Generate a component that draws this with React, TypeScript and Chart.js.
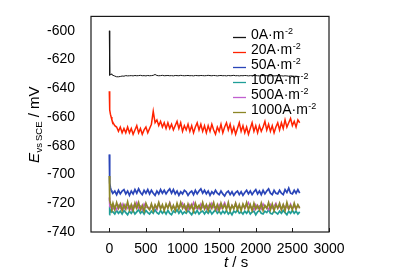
import { useEffect, useRef } from 'react';
import { Chart, registerables } from 'chart.js';

Chart.register(...registerables);

const FONT = '"Liberation Sans", Arial, Helvetica, sans-serif';

// Time axis (s)
const T = [
  0, 3, 8, 15, 25, 35,
  50, 75, 100, 125, 150, 175, 200, 225, 250, 275,
  300, 325, 350, 375, 400, 425, 450, 475, 500, 525,
  550, 575, 600, 625, 650, 675, 700, 725, 750, 775,
  800, 825, 850, 875, 900, 925, 950, 975, 1000, 1025,
  1050, 1075, 1100, 1125, 1150, 1175, 1200, 1225, 1250, 1275,
  1300, 1325, 1350, 1375, 1400, 1425, 1450, 1475, 1500, 1525,
  1550, 1575, 1600, 1625, 1650, 1675, 1700, 1725, 1750, 1775,
  1800, 1825, 1850, 1875, 1900, 1925, 1950, 1975, 2000, 2025,
  2050, 2075, 2100, 2125, 2150, 2175, 2200, 2225, 2250, 2275,
  2300, 2325, 2350, 2375, 2400, 2425, 2450, 2475, 2500, 2525,
  2550, 2575, 2600,
];

const E_0 = [
  -600, -629, -631, -630.5, -630, -630.5,
  -631, -631.5, -632, -632, -631.8, -631.5, -631.6, -631.2, -631.4, -631.3,
  -631.2, -631.4, -631.1, -631.3, -631.2, -631, -631.3, -631.2, -631.4, -631.1,
  -631.3, -631.2, -631, -630.4, -631.1, -631.3, -631.2, -631, -631.3, -631.2,
  -631.1, -631.3, -631.2, -631.4, -631.1, -631.2, -631.3, -631, -631.2, -631.3,
  -631.2, -631.1, -631.3, -631.2, -631.4, -631.1, -631.2, -631.3, -631.1, -631.2,
  -631.3, -631.2, -631, -631.2, -631.3, -631.1, -631.2, -631.4, -631.2, -631.1,
  -631.3, -631.2, -631.4, -631.1, -631.3, -631.2, -631, -631.3, -631.2, -631.4,
  -631.2, -631.3, -631.1, -631.2, -631.4, -631.2, -631.3, -631.1, -631.2, -631.3,
  -631.4, -631.2, -631.1, -631.3, -631.2, -631.4, -631.3, -631.2, -631.4, -631.3,
  -631.2, -631.4, -631.3, -631.5, -631.3, -631.4, -631.6, -631.4, -631.5, -631.7,
  -631.6, -631.8, -632,
];

const E_20 = [
  -642, -650, -655, -658, -660, -662,
  -664, -666, -667, -670, -667, -671, -668, -671, -667, -671,
  -668, -672, -669, -666, -671, -668, -672, -669, -667, -671,
  -668, -665, -656, -664, -662, -666, -663, -667, -664, -668,
  -664, -668, -665, -669, -666, -663, -668, -664, -670, -666,
  -669, -665, -670, -666, -671, -667, -664, -669, -665, -670,
  -666, -671, -666, -670, -665, -669, -672, -667, -670, -665,
  -671, -667, -664, -669, -665, -671, -667, -672, -668, -664,
  -670, -666, -671, -667, -672, -668, -664, -670, -666, -671,
  -666, -670, -667, -663, -669, -665, -670, -666, -671, -667,
  -664, -669, -664, -668, -662, -667, -664, -661, -666, -663,
  -667, -662, -664,
];

const E_50 = [
  -686, -700, -706, -709, -711, -712,
  -713, -711.5, -714, -711, -713.5, -711.5, -710.5, -713.5, -711.5, -714.5,
  -711.5, -713.5, -710.5, -713, -710, -712.5, -714, -711, -713, -710.5,
  -713.5, -711, -713, -714.5, -711.5, -713.5, -710.5, -713, -711, -713.5,
  -711.5, -710, -713, -710.5, -713.5, -711.5, -714.5, -712, -713.5, -711,
  -712, -714.5, -712.5, -711.5, -714, -711, -713.5, -711.5, -710, -713,
  -711, -713.5, -711.5, -714.5, -712, -713.5, -711, -713, -714, -711.5,
  -713.5, -715, -712.5, -711.5, -714, -712, -714.5, -712.5, -711.5, -714,
  -712, -714.5, -712.5, -711, -713.5, -711.5, -714, -712, -710.5, -713.5,
  -711.5, -714, -711, -713.5, -711.5, -710, -713, -714, -711, -713,
  -713.5, -711, -713, -714, -710.5, -712.5, -709.5, -713, -713.5, -711,
  -713, -710.5, -713,
];

const E_100 = [
  -728, -722, -724, -725, -726, -725.5,
  -726, -727.5, -725, -727, -725.5, -727.5, -725, -726.5, -728, -725.5,
  -727, -725, -727.5, -726, -724.5, -727, -725.5, -727.5, -725, -726.5,
  -727.5, -725.5, -727, -724.5, -726.5, -727.5, -725, -727, -725.5, -727.5,
  -725, -727, -728, -725.5, -726.5, -724.5, -727, -725, -727.5, -726,
  -727, -725, -726.5, -728, -725.5, -727, -725, -727.5, -726, -725.5,
  -727.5, -725.5, -727, -725, -727.5, -726, -724.5, -727, -725.5, -727.5,
  -725.5, -727, -725, -727.5, -726, -728, -725.5, -726.5, -724.5, -727,
  -726, -727.5, -725.5, -727, -725, -727.5, -726, -725.5, -728, -726,
  -725, -727, -727.5, -725.5, -726.5, -724.5, -727, -727.5, -725.5, -726.5,
  -727.5, -725.5, -727, -725, -726.5, -728, -725.5, -727, -725, -727,
  -725.5, -727.5, -726,
];

const E_500 = [
  -716, -720, -722, -723, -722.5, -723.5,
  -724, -722, -724.5, -721.5, -723.5, -720.5, -724, -721, -723.5, -722,
  -724.5, -721.5, -723, -719.5, -723.5, -722, -724.5, -720.5, -723, -722.5,
  -724, -721, -723.5, -722, -724.5, -720, -723, -722.5, -724, -721.5,
  -723, -719.5, -723.5, -722, -724.5, -721, -723.5, -722, -720, -723.5,
  -722, -724.5, -721, -723, -719.5, -723.5, -722.5, -724, -720.5, -723,
  -722, -724, -721.5, -723.5, -720, -723, -722.5, -724.5, -721, -723.5,
  -722, -719.5, -723, -722, -724, -721.5, -723.5, -720, -723, -722.5,
  -724, -721, -723.5, -722, -719.5, -723, -722.5, -724.5, -721, -723.5,
  -722, -724, -720.5, -723, -722.5, -724.5, -721, -723.5, -722, -720,
  -723.5, -722, -724.5, -721, -723, -722.5, -724, -720.5, -723.5, -722,
  -724, -721.5, -723,
];

const E_1000 = [
  -701, -712, -718, -720, -721.5, -723,
  -720, -724.5, -719.5, -723.5, -720.5, -725, -721, -724, -719, -724.5,
  -721, -725, -720, -723.5, -719.5, -724.5, -721.5, -725.5, -720, -723,
  -724.5, -720.5, -725, -721, -723.5, -719.5, -724, -721, -725, -720.5,
  -723.5, -720, -724.5, -721.5, -725, -720, -724, -719.5, -723.5, -721,
  -725, -720.5, -724, -721, -725.5, -720, -723.5, -721.5, -724.5, -719.5,
  -724, -721, -725, -720.5, -723.5, -719.5, -724.5, -721, -725, -720,
  -723.5, -721, -724.5, -719.5, -725, -721.5, -724, -720, -724.5, -721,
  -725, -720.5, -723.5, -719.5, -724.5, -721, -725, -720, -724, -721.5,
  -724.5, -720, -725, -721.5, -723.5, -719.5, -724.5, -720.5, -725, -721,
  -723.5, -720, -724.5, -721, -725, -719.5, -724, -721.5, -724.5, -720,
  -724, -721, -723.5,
];

const LABELS = ['0A·m', '20A·m', '50A·m', '100A·m', '500A·m', '1000A·m'];
const LABEL_SUP = '-2';
const COLORS = ['#151515', '#ff2200', '#2a45b8', '#1f9e98', '#c060d0', '#8c8626'];
const LINE_WIDTHS = [1, 1.5, 1.7, 1.7, 1.5, 1.7];
const SERIES = [E_0, E_20, E_50, E_100, E_500, E_1000];
const DRAW_ORDER = [5, 4, 3, 2, 1, 0];

const X_TICKS = [0, 500, 1000, 1500, 2000, 2500, 3000];
const Y_TICKS = [-740, -720, -700, -680, -660, -640, -620, -600];

const framePlugin = {
  id: 'frameAndText',
  afterDraw(chart: any) {
    const { ctx, chartArea } = chart;
    const { left, right, top, bottom } = chartArea;
    const xs = chart.scales.x;
    ctx.save();
    // frame
    ctx.strokeStyle = '#1a1a1a';
    ctx.lineWidth = 1.2;
    ctx.strokeRect(left, top, right - left, bottom - top);
    // inside ticks on x axis
    ctx.lineWidth = 1;
    X_TICKS.forEach((v) => {
      const px = Math.round(xs.getPixelForValue(v)) + 0.5;
      ctx.beginPath();
      ctx.moveTo(px, bottom);
      ctx.lineTo(px, bottom - 4);
      ctx.stroke();
    });

    // legend
    ctx.fillStyle = '#000';
    ctx.textBaseline = 'alphabetic';
    LABELS.forEach((lab, i) => {
      const base = 39 + 15 * i;
      const ly = 37.5 + 15 * i;
      ctx.strokeStyle = COLORS[i];
      ctx.lineWidth = 1.3;
      ctx.beginPath();
      ctx.moveTo(233, ly);
      ctx.lineTo(246, ly);
      ctx.stroke();
      ctx.font = `14px ${FONT}`;
      ctx.textAlign = 'left';
      ctx.fillText(lab, 251, base);
      const w = ctx.measureText(lab).width;
      ctx.font = `9px ${FONT}`;
      ctx.fillText(LABEL_SUP, 251 + w + 0.5, base - 5);
    });

    // x title
    ctx.font = `italic 15px ${FONT}`;
    ctx.fillText('t', 224, 267);
    const tw = ctx.measureText('t').width;
    ctx.font = `15px ${FONT}`;
    ctx.fillText(' / s', 224 + tw, 267);

    // y title (rotated)
    ctx.translate(39, 163);
    ctx.rotate(-Math.PI / 2);
    let x = 0;
    ctx.font = `italic 15px ${FONT}`;
    ctx.fillText('E', x, 0);
    x += ctx.measureText('E').width + 0.5;
    ctx.font = `9.5px ${FONT}`;
    ctx.fillText('vs', x, 3);
    x += ctx.measureText('vs').width + 2;
    ctx.fillText('SCE', x, 3);
    x += ctx.measureText('SCE').width;
    ctx.font = `15px ${FONT}`;
    ctx.fillText(' / mV', x, 0);
    ctx.restore();
  },
};

export default function App() {
  const ref = useRef<HTMLCanvasElement | null>(null);

  useEffect(() => {
    document.body.style.margin = '0';
    const canvas = ref.current;
    if (!canvas) return;
    const datasets = SERIES.map((vals, i) => ({
      label: LABELS[i] + LABEL_SUP,
      data: vals.map((v, k) => ({ x: T[k], y: v })),
      borderColor: COLORS[i],
      backgroundColor: COLORS[i],
      borderWidth: LINE_WIDTHS[i],
      pointRadius: 0,
      tension: 0,
      fill: false,
      order: DRAW_ORDER[i],
    }));
    const chart = new Chart(canvas, {
      type: 'line',
      data: { datasets },
      options: {
        animation: false,
        responsive: false,
        devicePixelRatio: 1,
        layout: { padding: { left: 0, top: 12, right: 71, bottom: 0 } },
        plugins: { legend: { display: false }, tooltip: { enabled: false } },
        scales: {
          x: {
            type: 'linear',
            min: -250,
            max: 3000,
            grid: { display: false },
            border: { display: false },
            afterBuildTicks: (s: any) => {
              s.ticks = X_TICKS.map((v) => ({ value: v }));
            },
            afterFit: (s: any) => {
              s.height = 43;
            },
            ticks: {
              color: '#000',
              font: { family: FONT, size: 14 },
              padding: 1,
              maxRotation: 0,
              autoSkip: false,
              callback: (v: any) => String(v),
            },
          },
          y: {
            type: 'linear',
            min: -740,
            max: -590,
            grid: { display: false },
            border: { display: false },
            afterBuildTicks: (s: any) => {
              s.ticks = Y_TICKS.map((v) => ({ value: v }));
            },
            afterFit: (s: any) => {
              s.width = 91;
            },
            ticks: {
              color: '#000',
              font: { family: FONT, size: 14 },
              padding: 8,
              autoSkip: false,
              callback: (v: any) => String(v),
            },
          },
        },
      },
      plugins: [framePlugin],
    });
    return () => chart.destroy();
  }, []);

  return (
    <div style={{ width: 400, height: 275, background: '#fff' }}>
      <canvas ref={ref} width={400} height={275} />
    </div>
  );
}
